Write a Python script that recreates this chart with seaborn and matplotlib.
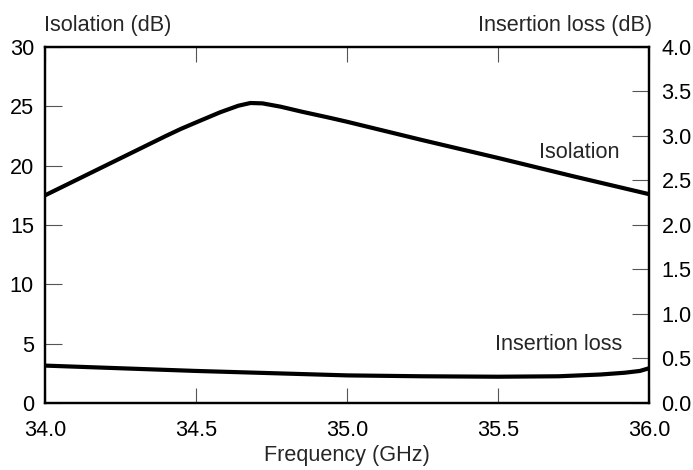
import numpy as np
import pandas as pd
import seaborn as sns
import matplotlib.pyplot as plt

# values
freq_iso = [34.0, 34.1, 34.2, 34.3, 34.4, 34.45, 34.51, 34.58, 34.64, 34.68, 34.72, 34.78,
            34.85, 34.94, 35.0, 35.25, 35.5, 35.75, 36.0]
isolation = [17.5, 18.75, 20.0, 21.25, 22.5, 23.1, 23.75, 24.5, 25.05, 25.28, 25.25, 24.97,
             24.55, 24.05, 23.7, 22.15, 20.65, 19.1, 17.6]

freq_il = [34.0, 34.25, 34.5, 34.75, 35.0, 35.25, 35.5, 35.7, 35.84, 35.92, 35.97, 36.0]
insertion_loss = [0.42, 0.39, 0.36, 0.335, 0.31, 0.30, 0.295, 0.30, 0.32, 0.34, 0.36, 0.39]

x_ticks = [34.0, 34.5, 35.0, 35.5, 36.0]
left_ticks = [0, 5, 10, 15, 20, 25, 30]
right_ticks = [0.0, 0.5, 1.0, 1.5, 2.0, 2.5, 3.0, 3.5, 4.0]

df_iso = pd.DataFrame({'Frequency': freq_iso, 'Isolation': isolation})
df_il = pd.DataFrame({'Frequency': freq_il, 'Insertion loss': insertion_loss})

sns.set_style('white')
plt.rcParams['font.family'] = ['Liberation Sans', 'DejaVu Sans']
fs = 15.6

fig = plt.figure(figsize=(6.93, 4.70), dpi=100)
ax = fig.add_axes([0.065, 0.1426, 0.8715, 0.7574])
ax2 = ax.twinx()

sns.lineplot(data=df_iso, x='Frequency', y='Isolation', ax=ax, color='black', linewidth=3)
sns.lineplot(data=df_il, x='Frequency', y='Insertion loss', ax=ax2, color='black', linewidth=3)

ax.set_xlim(34.0, 36.0)
ax.set_ylim(0, 30)
ax2.set_ylim(0, 4.0)
ax.set_xticks(x_ticks)
ax.set_xticklabels([f'{t:.1f}' for t in x_ticks])
ax.set_yticks(left_ticks)
ax2.set_yticks(right_ticks)
ax2.set_yticklabels([f'{t:.1f}' for t in right_ticks])

ax.set_xlabel('')
ax.set_ylabel('')
ax2.set_ylabel('')

for a in (ax, ax2):
    for s in a.spines.values():
        s.set_color('black')
        s.set_linewidth(1.6)

ax.tick_params(axis='x', direction='in', length=11, width=0.8, color='#555555',
               top=True, bottom=True, labelsize=fs, pad=12, labelcolor='black')
ax.tick_params(axis='y', direction='in', length=12, width=0.8, color='#555555',
               left=True, right=False, labelsize=fs, pad=8, labelcolor='black')
ax2.tick_params(axis='y', direction='in', length=12, width=0.8, color='#555555',
                right=True, left=False, labelsize=fs, pad=9, labelcolor='black')

ax.text(35.77, 21.1, 'Isolation', fontsize=fs, ha='center', va='center')
ax.text(35.70, 4.9, 'Insertion loss', fontsize=fs, ha='center', va='center')

fig.text(44 / 693, 1 - 26 / 470, 'Isolation (dB)', fontsize=fs, ha='left', va='center')
fig.text(652 / 693, 1 - 26 / 470, 'Insertion loss (dB)', fontsize=fs, ha='right', va='center')
fig.text(347 / 693, 1 - 455 / 470, 'Frequency (GHz)', fontsize=fs, ha='center', va='center')

fig.savefig('out.png', dpi=100)
